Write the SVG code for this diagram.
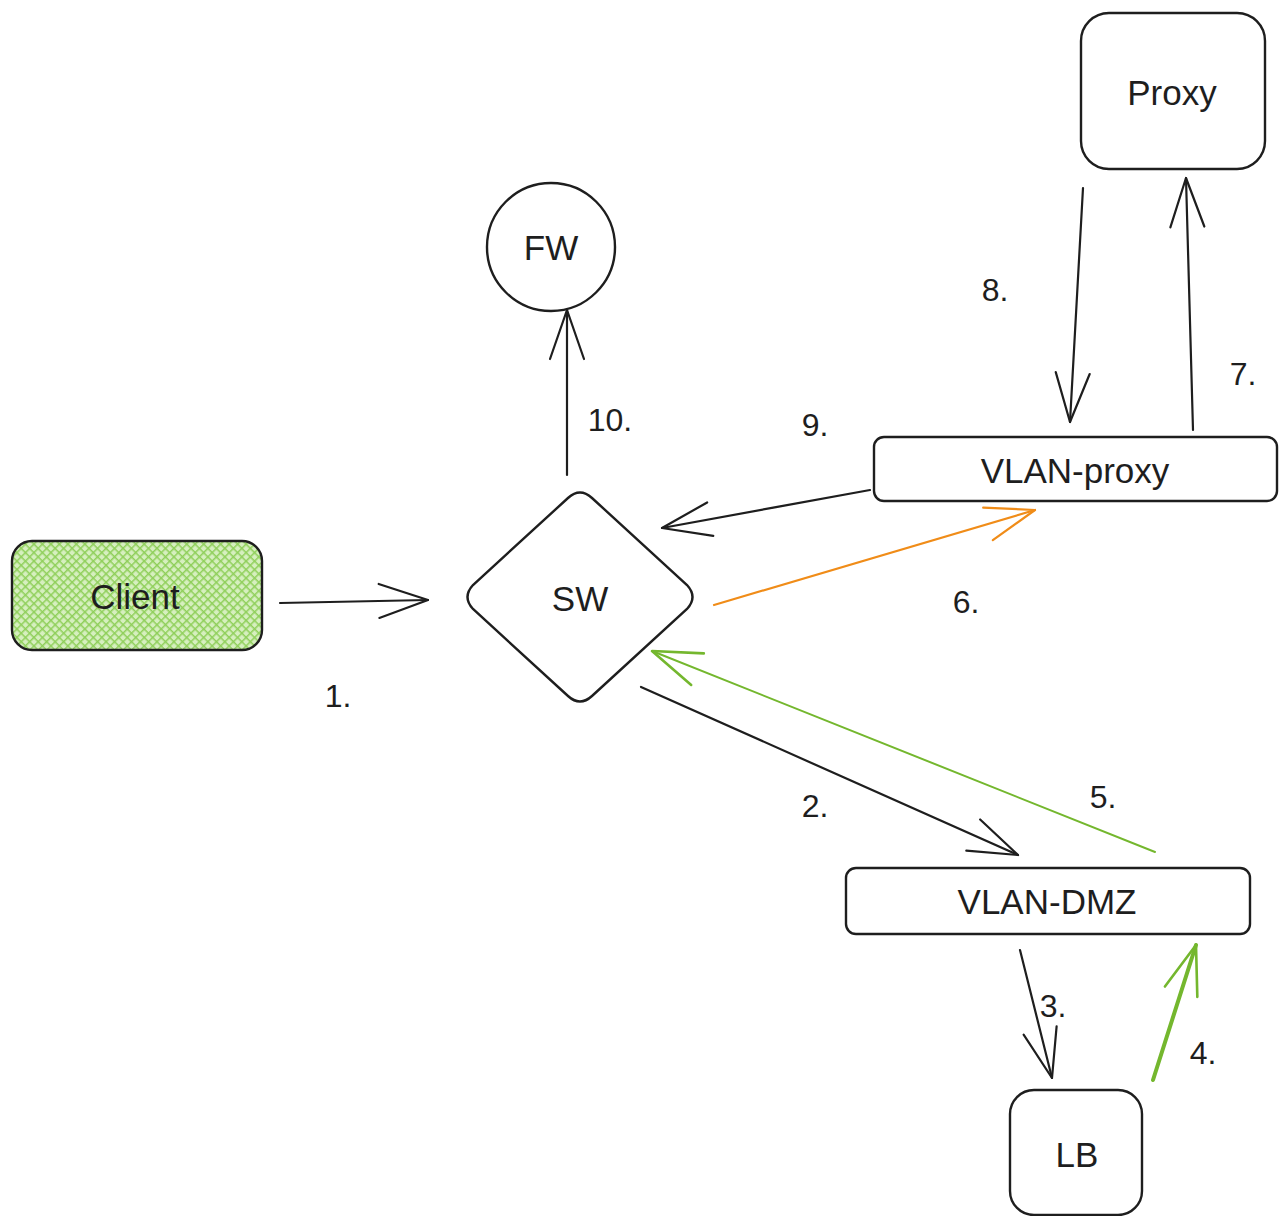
<svg xmlns="http://www.w3.org/2000/svg" width="1279" height="1216" viewBox="0 0 1279 1216">
<style>
.node{fill:#fff;stroke:#1e1e1e;stroke-width:2.4}
.t{font-family:"Liberation Sans",Arial,sans-serif;font-size:35px;fill:#1e1e1e;text-anchor:middle;dominant-baseline:central}
.lbl{font-family:"Liberation Sans",Arial,sans-serif;font-size:32px;fill:#1e1e1e;text-anchor:middle;dominant-baseline:central}
.ak{fill:none;stroke:#1e1e1e;stroke-width:2.2;stroke-linecap:round}
.ag{fill:none;stroke:#74b72e;stroke-linecap:round}
.ao{fill:none;stroke:#f08c18;stroke-width:2.2;stroke-linecap:round}
</style>
<defs>
<pattern id="hatch" width="6" height="6" patternUnits="userSpaceOnUse" patternTransform="rotate(45)">
<rect width="6" height="6" fill="#d6efbf"/>
<path d="M0,0 V6 M0,0 H6" stroke="#8fcf5a" stroke-width="3"/>
</pattern>
<marker id="mk" markerUnits="userSpaceOnUse" markerWidth="60" markerHeight="40" refX="50" refY="20" orient="auto" overflow="visible">
<path d="M1,3 L50,20 L1,37" fill="none" stroke="#1e1e1e" stroke-width="2.2" stroke-linecap="round" stroke-linejoin="round"/>
</marker>
<marker id="mg" markerUnits="userSpaceOnUse" markerWidth="60" markerHeight="40" refX="50" refY="20" orient="auto" overflow="visible">
<path d="M1,3 L50,20 L1,37" fill="none" stroke="#74b72e" stroke-width="2.6" stroke-linecap="round" stroke-linejoin="round"/>
</marker>
<marker id="mo" markerUnits="userSpaceOnUse" markerWidth="60" markerHeight="40" refX="50" refY="20" orient="auto" overflow="visible">
<path d="M1,3 L50,20 L1,37" fill="none" stroke="#f08c18" stroke-width="2.2" stroke-linecap="round" stroke-linejoin="round"/>
</marker>
</defs>
<rect width="1279" height="1216" fill="#fff"/>
<g id="connectors">
<path class="ak" d="M280,603 L428,600" marker-end="url(#mk)"/>
<path class="ak" d="M641,687 L1018,855" marker-end="url(#mk)"/>
<path class="ak" d="M1020,950 L1052,1078" marker-end="url(#mk)"/>
<path class="ag" stroke-width="4" d="M1153,1080 L1196,945" marker-end="url(#mg)"/>
<path class="ag" stroke-width="2" d="M1155,852 L652,651" marker-end="url(#mg)"/>
<path class="ao" d="M714,605 L1035,510" marker-end="url(#mo)"/>
<path class="ak" d="M1193,430 L1186,178" marker-end="url(#mk)"/>
<path class="ak" d="M1083,188 L1070,422" marker-end="url(#mk)"/>
<path class="ak" d="M870,490 L662,528" marker-end="url(#mk)"/>
<path class="ak" d="M567,475 L567,310" marker-end="url(#mk)"/>
<text class="lbl" x="338" y="696">1.</text>
<text class="lbl" x="815" y="806">2.</text>
<text class="lbl" x="1053" y="1006">3.</text>
<text class="lbl" x="1203" y="1053">4.</text>
<text class="lbl" x="1103" y="797">5.</text>
<text class="lbl" x="966" y="602">6.</text>
<text class="lbl" x="1243" y="374">7.</text>
<text class="lbl" x="995" y="290">8.</text>
<text class="lbl" x="815" y="425">9.</text>
<text class="lbl" x="610" y="420">10.</text>
</g>
<g id="client">
<rect x="12" y="541" width="250" height="109" rx="20" fill="url(#hatch)" stroke="#1e1e1e" stroke-width="2.4"/>
<text class="t" x="135" y="596">Client</text>
</g>
<g id="sw">
<path class="node" d="M568,498 Q580,487 592,498 L687,585 Q698,597 687,609 L592,696 Q580,707 568,696 L473,609 Q462,597 473,585 Z"/>
<text class="t" x="580" y="598">SW</text>
</g>
<g id="fw">
<circle class="node" cx="551" cy="247" r="64"/>
<text class="t" x="551" y="247">FW</text>
</g>
<g id="proxy">
<rect class="node" x="1081" y="13" width="184" height="156" rx="28"/>
<text class="t" x="1172" y="92">Proxy</text>
</g>
<g id="vlan-proxy">
<rect class="node" x="874" y="437" width="403" height="64" rx="10"/>
<text class="t" x="1075" y="470">VLAN-proxy</text>
</g>
<g id="vlan-dmz">
<rect class="node" x="846" y="868" width="404" height="66" rx="10"/>
<text class="t" x="1047" y="901">VLAN-DMZ</text>
</g>
<g id="lb">
<rect class="node" x="1010" y="1090" width="132" height="125" rx="24"/>
<text class="t" x="1077" y="1154">LB</text>
</g>
</svg>
